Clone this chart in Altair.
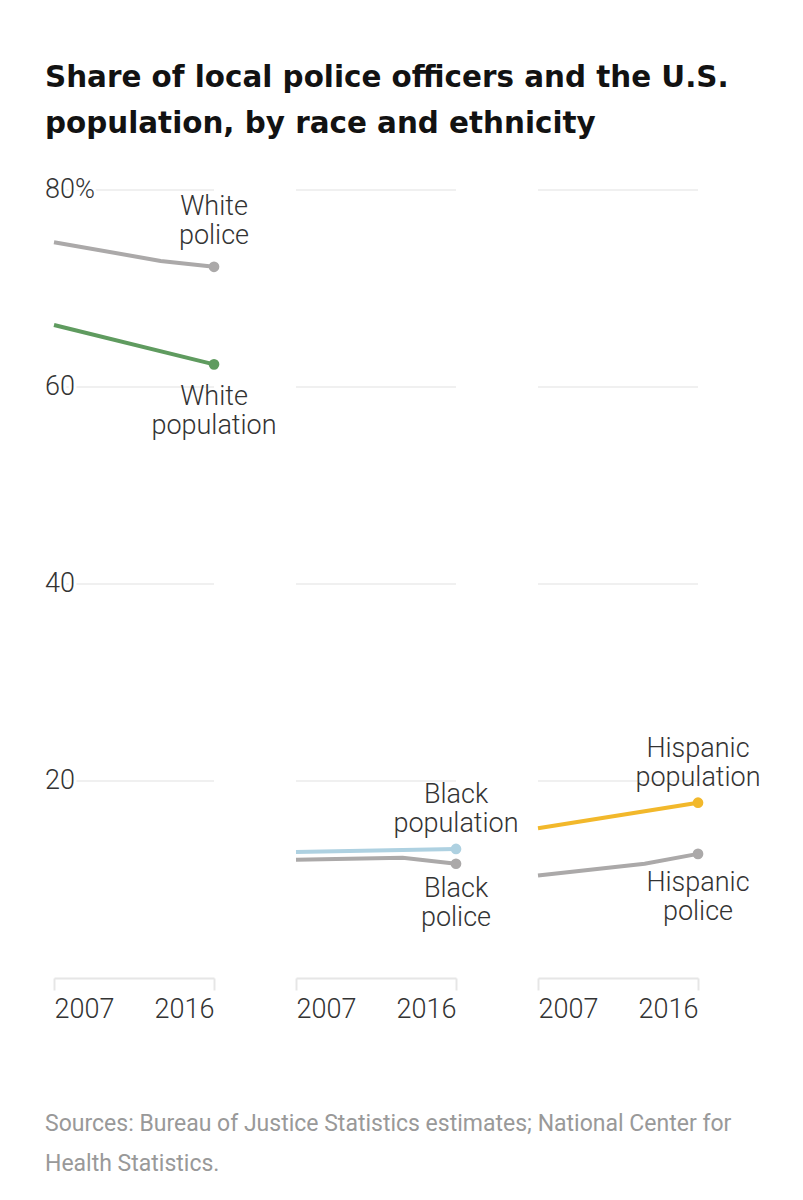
import altair as alt
import pandas as pd

# ---- data ----
police_years = [2007, 2013, 2016]
population_years = [2007, 2016]

white_police = [74.7, 72.8, 72.2]
white_population = [66.3, 62.3]
black_police = [12.0, 12.2, 11.6]
black_population = [12.8, 13.1]
hispanic_police = [10.4, 11.6, 12.6]
hispanic_population = [15.2, 17.8]

police_labels = ["White\npolice", "Black\npolice", "Hispanic\npolice"]
population_labels = ["White\npopulation", "Black\npopulation", "Hispanic\npopulation"]

y_ticks = [20, 40, 60, 80]
y_tick_labels = ["20", "40", "60", "80%"]
x_ticks = [2007, 2016]

title_lines = ["Share of local police officers and the U.S.",
               "population, by race and ethnicity"]
source_lines = ["Sources: Bureau of Justice Statistics estimates; National Center for",
                "Health Statistics."]

# ---- styling ----
FONT = "Roboto"
FS = 27
TEXT_COLOR = "#333333"
POLICE_COLOR = "#aba9a9"
GRID_COLOR = "#ebebeb"
W, H = 160, 788

x_scale = alt.Scale(domain=[2007, 2016], nice=False, zero=False)
y_scale = alt.Scale(domain=[0, 80], nice=False)


def panel(police, population, police_label, population_label, pop_color,
          pop_dy, police_dy, show_y):
    pol_df = pd.DataFrame({"year": police_years, "value": police})
    pop_df = pd.DataFrame({"year": population_years, "value": population})
    grid_df = pd.DataFrame({"tick": y_ticks, "label": y_tick_labels})

    x_enc = alt.X("year:Q", scale=x_scale, title=None,
                  axis=alt.Axis(values=x_ticks, format="d", grid=False,
                                domainColor="#e6e6e6", domainWidth=2,
                                tickColor="#e6e6e6", tickWidth=2, tickSize=12,
                                labelFlush=True, labelFont=FONT, labelFontSize=FS,
                                labelFontWeight=300, labelColor=TEXT_COLOR,
                                labelPadding=6))
    y_enc = alt.Y("value:Q", scale=y_scale, axis=None)

    grid = alt.Chart(grid_df).mark_rule(color=GRID_COLOR, strokeWidth=1.5).encode(
        y=alt.Y("tick:Q", scale=y_scale, axis=None))

    layers = [grid]
    if show_y:
        halo = alt.Chart(grid_df).mark_text(
            align="left", baseline="middle", font=FONT, fontSize=FS, fontWeight=300,
            fill="white", stroke="white", strokeWidth=6, dx=-9).encode(
            x=alt.value(0), y=alt.Y("tick:Q", scale=y_scale, axis=None), text="label:N")
        lab = alt.Chart(grid_df).mark_text(
            align="left", baseline="middle", font=FONT, fontSize=FS, fontWeight=300,
            color=TEXT_COLOR, dx=-9).encode(
            x=alt.value(0), y=alt.Y("tick:Q", scale=y_scale, axis=None), text="label:N")
        layers += [halo, lab]

    pol_base = alt.Chart(pol_df).encode(x=x_enc, y=y_enc)
    pop_base = alt.Chart(pop_df).encode(x=x_enc, y=y_enc)

    layers += [
        pol_base.mark_line(color=POLICE_COLOR, strokeWidth=4),
        pop_base.mark_line(color=pop_color, strokeWidth=4),
        pol_base.transform_filter("datum.year == 2016").mark_circle(
            color=POLICE_COLOR, size=115, opacity=1),
        pop_base.transform_filter("datum.year == 2016").mark_circle(
            color=pop_color, size=115, opacity=1),
        pol_base.transform_filter("datum.year == 2016").mark_text(
            align="center", baseline="middle", lineBreak="\n", lineHeight=29,
            font=FONT, fontSize=FS, fontWeight=300, color=TEXT_COLOR, dy=police_dy
        ).encode(text=alt.value(police_label)),
        pop_base.transform_filter("datum.year == 2016").mark_text(
            align="center", baseline="middle", lineBreak="\n", lineHeight=29,
            font=FONT, fontSize=FS, fontWeight=300, color=TEXT_COLOR, dy=pop_dy
        ).encode(text=alt.value(population_label)),
    ]
    return alt.layer(*layers).properties(width=W, height=H)


p1 = panel(white_police, white_population, police_labels[0], population_labels[0],
           "#5f9b5f", 33, -60, True)
p2 = panel(black_police, black_population, police_labels[1], population_labels[1],
           "#aed1e1", -54, 25, False)
p3 = panel(hispanic_police, hispanic_population, police_labels[2], population_labels[2],
           "#f2b82b", -54, 29, False)

inner = alt.hconcat(p1, p2, p3, spacing=82, bounds="flush").properties(
    title=alt.TitleParams(source_lines, orient="bottom", anchor="start", frame="bounds",
                          font=FONT, fontSize=23, fontWeight="normal", color="#999999",
                          lineHeight=40, baseline="top", offset=91))

chart = alt.vconcat(inner).properties(
    title=alt.TitleParams(title_lines, anchor="start", frame="bounds", font="DejaVu Sans",
                          fontSize=29.4, fontWeight="bold", color="#121212",
                          lineHeight=46, baseline="top", offset=37),
    padding={"left": 45, "top": 62, "right": 0, "bottom": 20},
    background="white",
).configure_view(stroke=None)

chart.save("out.html", embed_options={"renderer": "svg", "actions": False})
